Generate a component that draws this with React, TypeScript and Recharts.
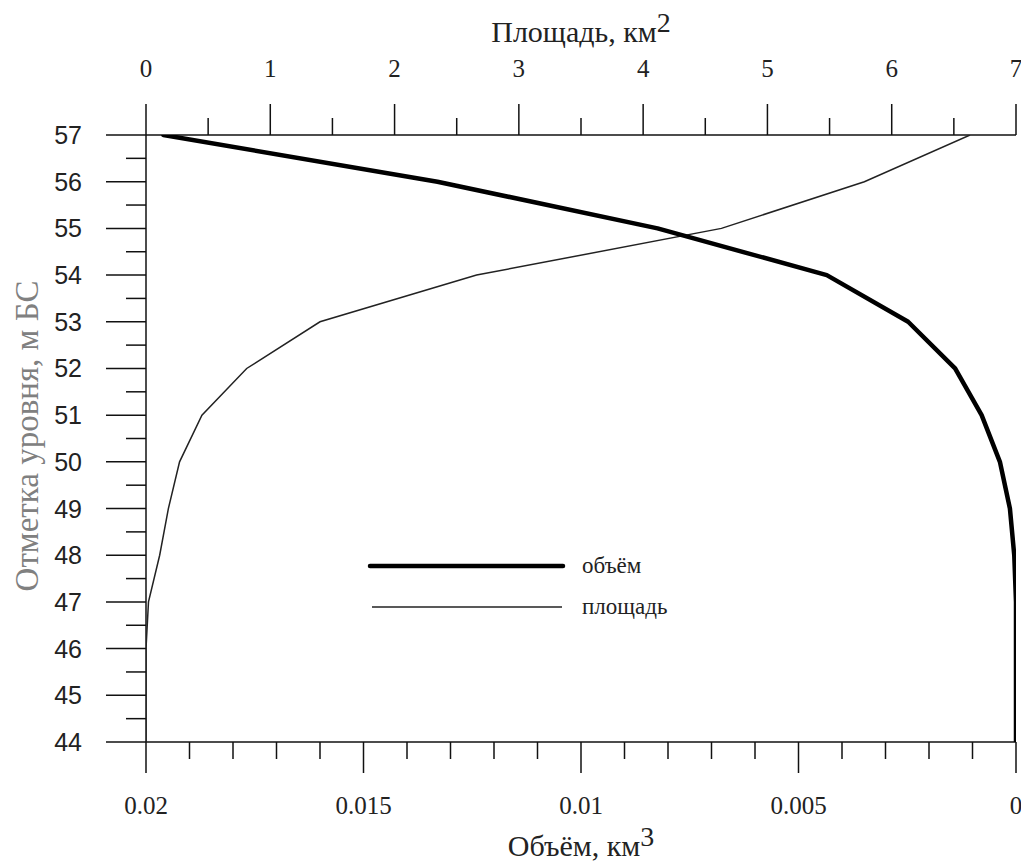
import React from 'react';
import { ScatterChart, Scatter, XAxis, YAxis, Legend, Label } from 'recharts';

// ---- data ----
const levels = [57, 56, 55, 54, 53, 52, 51, 50, 49, 48, 47, 46, 45, 44];
const areaKm2 = [6.63, 5.78, 4.63, 2.66, 1.4, 0.81, 0.45, 0.27, 0.18, 0.11, 0.02, 0, 0, 0];
const volumeKm3 = [0.0196, 0.0133, 0.00824, 0.00435, 0.00248, 0.0014, 0.00079, 0.00037, 0.00014, 0.00004, 0, 0, 0, 0];

const areaTicks = [0, 0.5, 1, 1.5, 2, 2.5, 3, 3.5, 4, 4.5, 5, 5.5, 6, 6.5, 7];
const areaMajor = [0, 1, 2, 3, 4, 5, 6, 7];
const volumeTicks = [
  0, 0.001, 0.002, 0.003, 0.004, 0.005, 0.006, 0.007, 0.008, 0.009, 0.01,
  0.011, 0.012, 0.013, 0.014, 0.015, 0.016, 0.017, 0.018, 0.019, 0.02,
];
const volumeMajor = [0, 0.005, 0.01, 0.015, 0.02];
const volumeLabels = ['0', '0.005', '0.01', '0.015', '0.02'];
const levelTicks = [
  44, 44.5, 45, 45.5, 46, 46.5, 47, 47.5, 48, 48.5, 49, 49.5, 50, 50.5, 51, 51.5,
  52, 52.5, 53, 53.5, 54, 54.5, 55, 55.5, 56, 56.5, 57,
];

const seriesNames = ['объём', 'площадь'];

const areaData = levels.map((level, i) => ({ level, area: areaKm2[i] }));
const volumeData = levels.map((level, i) => ({ level, volume: volumeKm3[i] }));

const SERIF = "'Liberation Serif', 'Times New Roman', serif";
const SANS = "'Liberation Sans Narrow', 'Liberation Sans', Arial, sans-serif";
const INK = '#111';

const isNear = (v: number, arr: number[]) => arr.some((a) => Math.abs(a - v) < 1e-9);

const TopTick = (props: any) => {
  const { x, y, payload } = props;
  const major = isNear(payload.value, areaMajor);
  return (
    <g>
      <line x1={x} x2={x} y1={y} y2={y - (major ? 31 : 17)} stroke={INK} strokeWidth={1.5} />
      {major && (
        <text x={x} y={y - 67} dy="0.35em" textAnchor="middle" fontFamily={SERIF} fontSize={25} fill="#222">
          {String(payload.value)}
        </text>
      )}
    </g>
  );
};

const BottomTick = (props: any) => {
  const { x, y, payload } = props;
  const idx = volumeMajor.findIndex((m) => Math.abs(m - payload.value) < 1e-9);
  const major = idx >= 0;
  return (
    <g>
      <line x1={x} x2={x} y1={y} y2={y + (major ? 31 : 17)} stroke={INK} strokeWidth={1.5} />
      {major && (
        <text x={x} y={y + 63} dy="0.35em" textAnchor="middle" fontFamily={SERIF} fontSize={25} fill="#222">
          {volumeLabels[idx]}
        </text>
      )}
    </g>
  );
};

const LeftTick = (props: any) => {
  const { x, y, payload } = props;
  const major = Number.isInteger(payload.value);
  return (
    <g>
      <line x1={x} x2={x - (major ? 40 : 20)} y1={y} y2={y} stroke={INK} strokeWidth={1.5} />
      {major && (
        <text x={x - 64} y={y} dy="0.36em" textAnchor="end" fontFamily={SANS} fontSize={25} fill="#222">
          {String(payload.value)}
        </text>
      )}
    </g>
  );
};

const TopTitle = () => (
  <text x={581} y={42} textAnchor="middle" fontFamily={SERIF} fontSize={30} fill="#222">
    <tspan>Площадь, км</tspan>
    <tspan dy={-10} fontSize={28}>2</tspan>
  </text>
);

const BottomTitle = () => (
  <text x={581} y={856} textAnchor="middle" fontFamily={SERIF} fontSize={30} fill="#222">
    <tspan>Объём, км</tspan>
    <tspan dy={-10} fontSize={28}>3</tspan>
  </text>
);

const LeftTitle = () => (
  <text
    x={38}
    y={436}
    textAnchor="middle"
    fontFamily={SERIF}
    fontSize={33}
    fill="#808080"
    transform="rotate(-90, 38, 436)"
  >
    Отметка уровня, м БС
  </text>
);

const LegendContent = () => (
  <svg width={420} height={90}>
    <line x1={10} x2={203} y1={21} y2={21} stroke="#000" strokeWidth={4.5} strokeLinecap="round" />
    <line x1={12} x2={202} y1={62} y2={62} stroke="#222" strokeWidth={1.5} />
    <text x={222} y={21} dy="0.3em" fontFamily={SERIF} fontSize={23} fill="#222">
      {seriesNames[0]}
    </text>
    <text x={222} y={62} dy="0.3em" fontFamily={SERIF} fontSize={23} fill="#222">
      {seriesNames[1]}
    </text>
  </svg>
);

const NoDot = () => <g />;

export default function App() {
  return (
    <div style={{ position: 'absolute', left: 0, top: 0, width: 1021, height: 861, background: '#fff' }}>
      <ScatterChart width={1021} height={861} margin={{ top: 105, right: 5, bottom: 89, left: 86 }}>
        <XAxis
          xAxisId="area"
          dataKey="area"
          type="number"
          orientation="top"
          domain={[0, 7]}
          ticks={areaTicks}
          interval={0}
          height={30}
          tickSize={0}
          tickMargin={0}
          tickLine={false}
          axisLine={{ stroke: INK, strokeWidth: 1.5 }}
          tick={<TopTick />}
          allowDataOverflow
        >
          <Label content={<TopTitle />} />
        </XAxis>
        <XAxis
          xAxisId="volume"
          dataKey="volume"
          type="number"
          orientation="bottom"
          domain={[0, 0.02]}
          reversed
          ticks={volumeTicks}
          interval={0}
          height={30}
          tickSize={0}
          tickMargin={0}
          tickLine={false}
          axisLine={{ stroke: INK, strokeWidth: 1.5 }}
          tick={<BottomTick />}
          allowDataOverflow
        >
          <Label content={<BottomTitle />} />
        </XAxis>
        <YAxis
          yAxisId="level"
          dataKey="level"
          type="number"
          domain={[44, 57]}
          ticks={levelTicks}
          interval={0}
          width={60}
          tickSize={0}
          tickMargin={0}
          tickLine={false}
          axisLine={{ stroke: INK, strokeWidth: 1.5 }}
          tick={<LeftTick />}
          allowDataOverflow
        >
          <Label content={<LeftTitle />} />
        </YAxis>
        <Legend
          layout="vertical"
          align="center"
          verticalAlign="middle"
          wrapperStyle={{ left: 360, top: 545, width: 420, height: 90 }}
          content={<LegendContent />}
        />
        <Scatter
          name={seriesNames[1]}
          data={areaData}
          xAxisId="area"
          yAxisId="level"
          fill="#222"
          line={{ stroke: '#222', strokeWidth: 1.5 }}
          lineType="joint"
          shape={<NoDot />}
          isAnimationActive={false}
        />
        <Scatter
          name={seriesNames[0]}
          data={volumeData}
          xAxisId="volume"
          yAxisId="level"
          fill="#000"
          line={{ stroke: '#000', strokeWidth: 4.5, strokeLinejoin: 'round', strokeLinecap: 'round' }}
          lineType="joint"
          shape={<NoDot />}
          isAnimationActive={false}
        />
      </ScatterChart>
    </div>
  );
}
